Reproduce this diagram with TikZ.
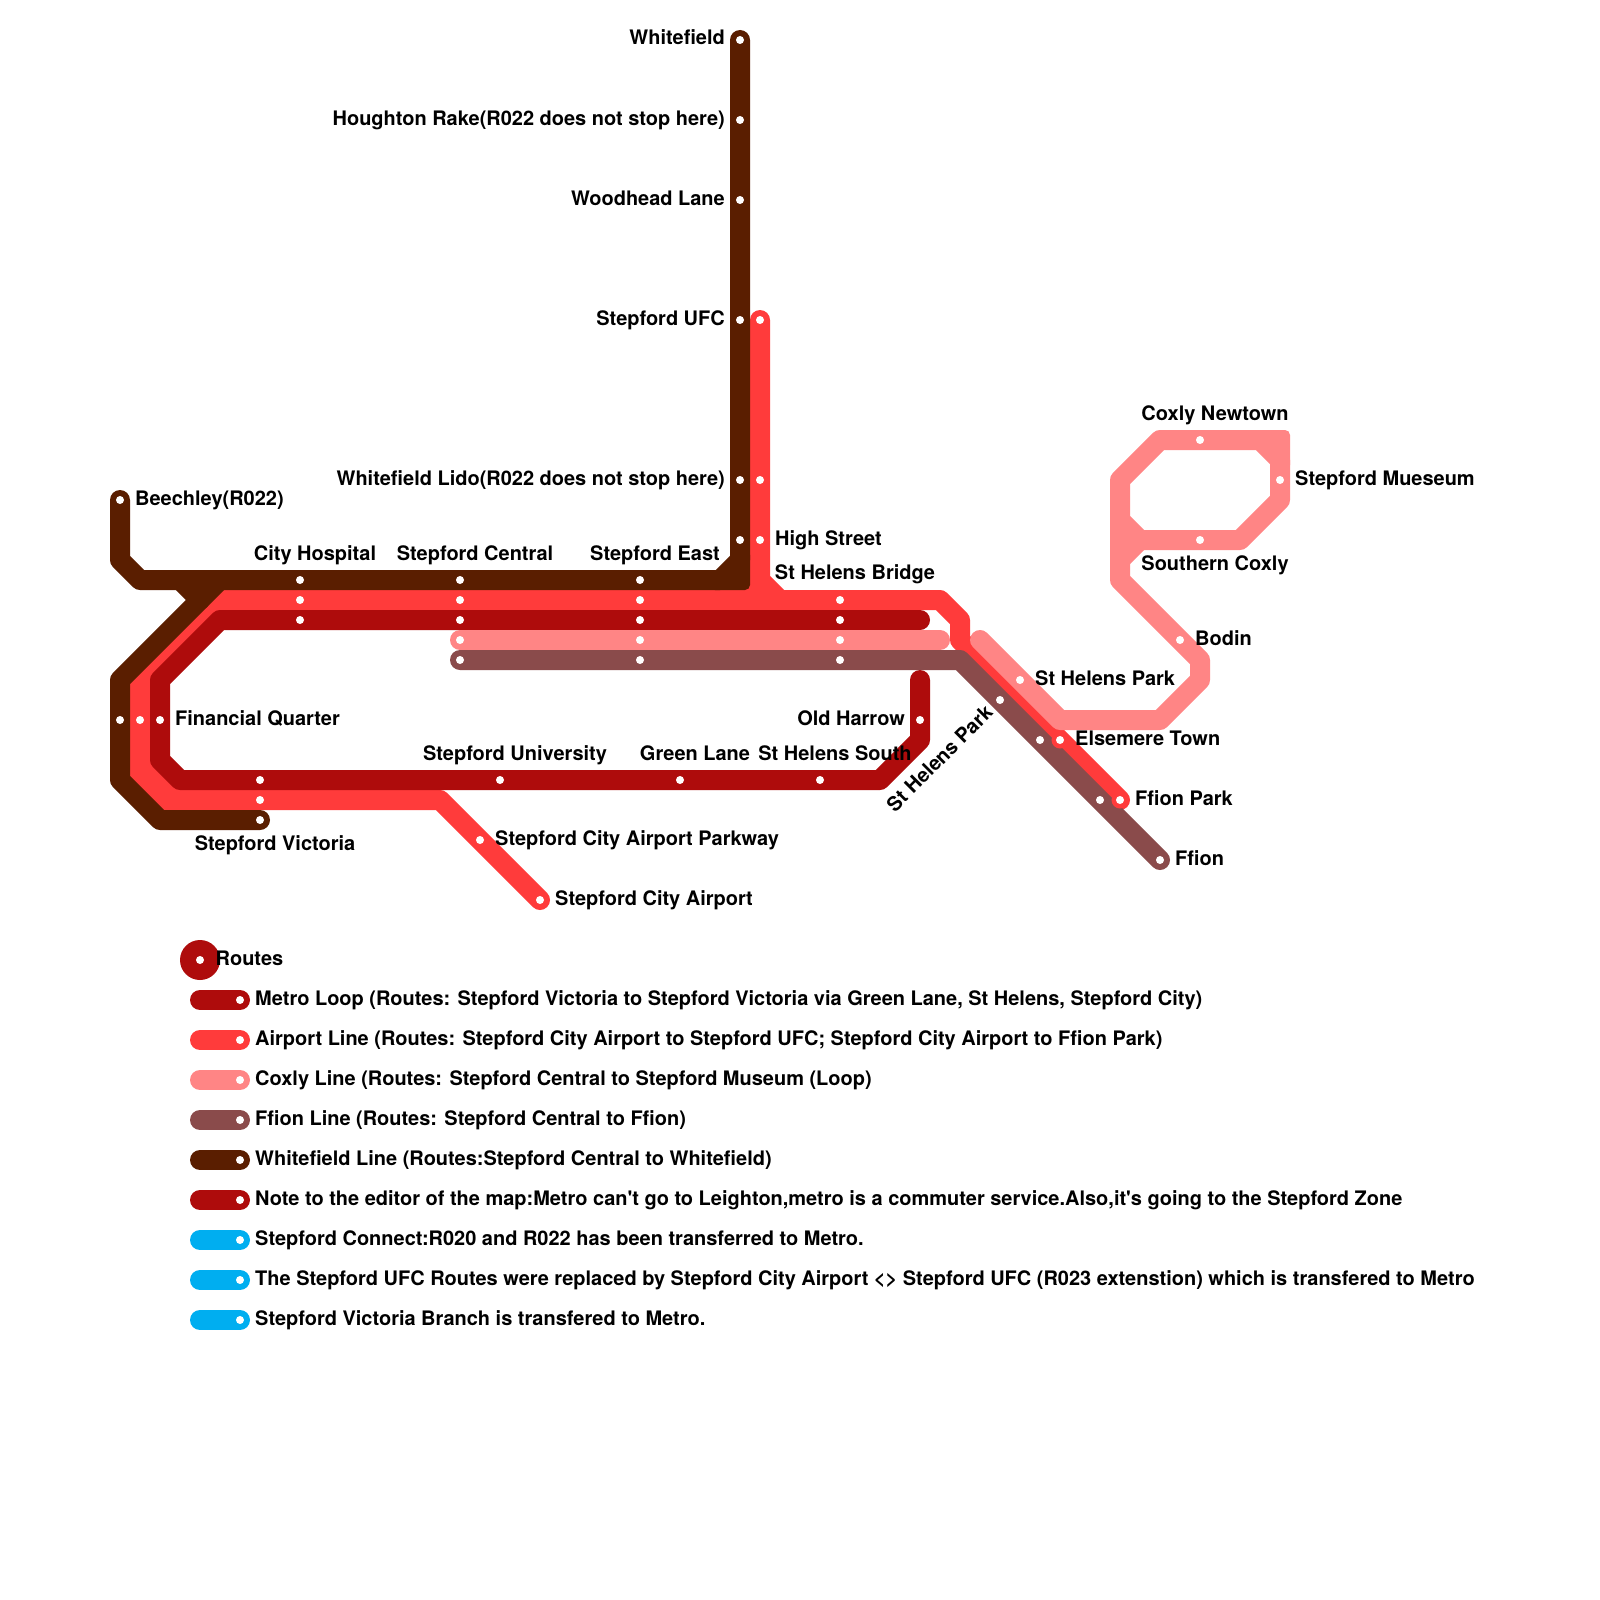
\documentclass[tikz,border=0pt]{standalone}
\usepackage{fontspec}
\setmainfont{TeX Gyre Heros}[BoldFont={* Bold},Ligatures=TeXOff]
\definecolor{cmetro}{HTML}{AE0C0C}
\definecolor{cair}{HTML}{FF3B3B}
\definecolor{ccox}{HTML}{FF8585}
\definecolor{cffi}{HTML}{8A4B4B}
\definecolor{cwhi}{HTML}{5A1E00}
\definecolor{cblue}{HTML}{00AEF0}
\tikzset{
  x=1pt,y=-1pt,
  route/.style={line width=20pt,line cap=round,line join=round},
  corner/.style={rounded corners=5pt},
  sdot/.style={circle,fill=white,draw=none,inner sep=0pt,minimum size=8pt},
  halo/.style={circle,fill=cair,draw=none,inner sep=0pt,minimum size=17pt},
  txt/.style={inner sep=0pt,font=\fontsize{19.98}{24}\selectfont\bfseries,text=black},
  lw/.style={txt,anchor=base west},
  le/.style={txt,anchor=base east},
  lc/.style={txt,anchor=base},
}
\begin{document}
\begin{tikzpicture}
\useasboundingbox[fill=white] (0,0) rectangle (1600,1600);
% ---- vertices of the routes
\foreach \n/\x/\y in {
  wWhitefield/740/40,wHoughton/740/120,wWoodhead/740/200,wUFC/740/320,wLido/740/480,wHigh/740/540,
  wBendE/740/560,wBendF/720/580,wEast/640/580,wCentral/460/580,wHosp/300/580,wJ/220/580,wJb/180/580,
  wBk/140/580,wBb/120/560,wBeech/120/500,wV/200/600,wA/120/680,wFQ/120/720,wC/120/780,wD/160/820,wVic/260/820,
  aUFC/760/320,aLido/760/480,aHigh/760/540,aB/760/580,aC/780/600,aBridge/840/600,aD/940/600,aE/960/620,aF/960/640,
  aElse/1060/740,aPark/1120/800,aEast/640/600,aCentral/460/600,aHosp/300/600,aG/220/600,aH/140/680,aFQ/140/720,aI/140/780,
  aK/160/800,aIb/140/760,aKb/180/800,aVic/260/800,aL/440/800,aParkway/480/840,aAirport/540/900,
  mOld/920/720,mTop/920/680,mA/920/740,mB/880/780,mSouth/820/780,mGreen/680/780,mUni/500/780,mVic/260/780,mC/180/780,mD/160/760,
  mFQ/160/720,mE/160/680,mF/220/620,mHosp/300/620,mCentral/460/620,mEast/640/620,mBridge/840/620,mEnd/920/620,
  cCentral/460/640,cEast/640/640,cBridge/840/640,cEnd/940/640,cStart/980/640,cPark/1020/680,cA/1060/720,cB/1160/720,cC/1200/680,
  cD/1200/660,cBodin/1180/640,cE/1120/580,cF/1120/560,cG/1140/540,cSouth/1200/540,cH/1240/540,cI/1280/500,cMus/1280/480,cJ/1280/460,
  cK/1260/440,cNew/1200/440,cL/1160/440,cM/1120/480,cN/1120/520,
  fCentral/460/660,fEast/640/660,fBridge/840/660,fA/960/660,fPark/1000/700,fElse/1040/740,fFP/1100/800,fEnd/1160/860}
  {\coordinate (\n) at (\x,\y);}
% ---- Airport Line
\fill[cair] (740,580) rectangle (760,600);
\draw[route,cair] (aUFC)--(aB)--(aC)--(aD)--(aE)--(aF)--(aPark);
\draw[route,cair] (aC)--(aG)--(aH)--(aI)--(aK)--(aL)--(aAirport);
\draw[route,cair] (aIb)--(aKb);
% ---- Whitefield Line
\draw[route,cwhi] (wWhitefield)--(wBendE)--(wBendF)--(wBk)--(wBb)--(wBeech);
\draw[route,cwhi] (wJb)--(wV);
\draw[route,cwhi] (wJ)--(wV)--(wA)--(wC)--(wD)--(wVic);
\fill[cwhi,corner] (710,590)--(750,590)--(750,550)--cycle;
% ---- Metro Loop
\draw[route,cmetro] (mTop)--(mA)--(mB)--(mC)--(mD)--(mE)--(mF)--(mEnd);
% ---- Coxly Line
\draw[route,ccox] (cCentral)--(cEnd);
\draw[route,ccox] (cStart)--(cA)--(cB)--(cC)--(cD)--(cE)--(cM)--(cL)--(cK)--(cJ)--(cI)--(cH)--(cG)--(cN);
\draw[route,ccox] (cG)--(cF);
\fill[ccox,corner] (1250,430)--(1290,430)--(1290,470)--cycle;
% ---- Ffion Line
\draw[route,cffi] (fCentral)--(fA)--(fEnd);
% ---- Rings where the Airport Line runs beside the Ffion Line
\node[halo] (ringElse) at (aElse) {};
\node[halo] (ringPark) at (aPark) {};
% ---- Station dots
\foreach \n in {wWhitefield,wHoughton,wWoodhead,wUFC,wLido,wHigh,wEast,wCentral,wHosp,wBeech,wFQ,wVic,
  aUFC,aLido,aHigh,aBridge,aElse,aPark,aEast,aCentral,aHosp,aFQ,aVic,aParkway,aAirport,
  mOld,mSouth,mGreen,mUni,mVic,mFQ,mHosp,mCentral,mEast,mBridge,
  cCentral,cEast,cBridge,cPark,cBodin,cSouth,cMus,cNew,
  fCentral,fEast,fBridge,fPark,fElse,fFP,fEnd}
  {\node[sdot] (dot\n) at (\n) {};}
% ---- Station labels
\node[le] (lWhitefield) at (725,45) {Whitefield};
\node[le] (lHoughton) at (725,125) {Houghton Rake(R022 does not stop here)};
\node[le] (lWoodhead) at (725,205) {Woodhead Lane};
\node[le] (lUFC) at (725,325) {Stepford UFC};
\node[le] (lLido) at (725,485) {Whitefield Lido(R022 does not stop here)};
\node[lw] (lBeech) at (135,505) {Beechley(R022)};
\node[lw] (lHigh) at (775,545) {High Street};
\node[lc] (lHosp) at (315,560) {City Hospital};
\node[lc] (lCentral) at (475,560) {Stepford Central};
\node[lc] (lEast) at (655,560) {Stepford East};
\node[lc] (lBridge) at (855,579) {St Helens Bridge};
\node[lw] (lFQ) at (175,725) {Financial Quarter};
\node[le] (lOld) at (905,725) {Old Harrow};
\node[lc] (lUni) at (515,760) {Stepford University};
\node[lc] (lGreen) at (695,760) {Green Lane};
\node[lc] (lSouth) at (835,760) {St Helens South};
\node[lc] (lVic) at (275,850) {Stepford Victoria};
\node[lw] (lParkway) at (495,845) {Stepford City Airport Parkway};
\node[lw] (lAirport) at (555,905) {Stepford City Airport};
\node[txt,anchor=base east,rotate=45] (lFPark) at (994,714) {St Helens Park};
\node[lw] (lCPark) at (1035,685) {St Helens Park};
\node[lw] (lElse) at (1075,745) {Elsemere Town};
\node[lw] (lFfPark) at (1135,805) {Ffion Park};
\node[lw] (lFfion) at (1175,865) {Ffion};
\node[lw] (lBodin) at (1195,645) {Bodin};
\node[lc] (lSouth2) at (1215,570) {Southern Coxly};
\node[lc] (lNew) at (1215,420) {Coxly Newtown};
\node[lw] (lMus) at (1295,485) {Stepford Mueseum};
% ---- Legend
\node[circle,fill=cmetro,draw=none,inner sep=0pt,minimum size=40pt] (legBig) at (200,960) {};
\node[sdot] (legBigDot) at (200,960) {};
\node[lw] (legRoutes) at (215.5,965) {Routes};
\foreach \k/\y/\c/\t in {
  a/1000/cmetro/{Metro Loop (Routes: Stepford Victoria to Stepford Victoria via Green Lane, St Helens, Stepford City)},
  b/1040/cair/{Airport Line (Routes: Stepford City Airport to Stepford UFC; Stepford City Airport to Ffion Park)},
  c/1080/ccox/{Coxly Line (Routes: Stepford Central to Stepford Museum (Loop)},
  d/1120/cffi/{Ffion Line (Routes: Stepford Central to Ffion)},
  e/1160/cwhi/{Whitefield Line (Routes:Stepford Central to Whitefield)},
  f/1200/cmetro/{Note to the editor of the map:Metro can't go to Leighton,metro is a commuter service.Also,it's going to the Stepford Zone},
  g/1240/cblue/{Stepford Connect:R020 and R022 has been transferred to Metro.},
  h/1280/cblue/{The Stepford UFC Routes were replaced by Stepford City Airport <> Stepford UFC (R023 extenstion) which is transfered to Metro},
  i/1320/cblue/{Stepford Victoria Branch is transfered to Metro.}}
{
  \coordinate (leg\k A) at (200,\y);
  \coordinate (leg\k B) at (240,\y);
  \draw[route,\c] (leg\k A)--(leg\k B);
  \node[sdot] (leg\k D) at (leg\k B) {};
  \node[lw] (leg\k T) at (255,\y+5) {\t};
}
\end{tikzpicture}
\end{document}
